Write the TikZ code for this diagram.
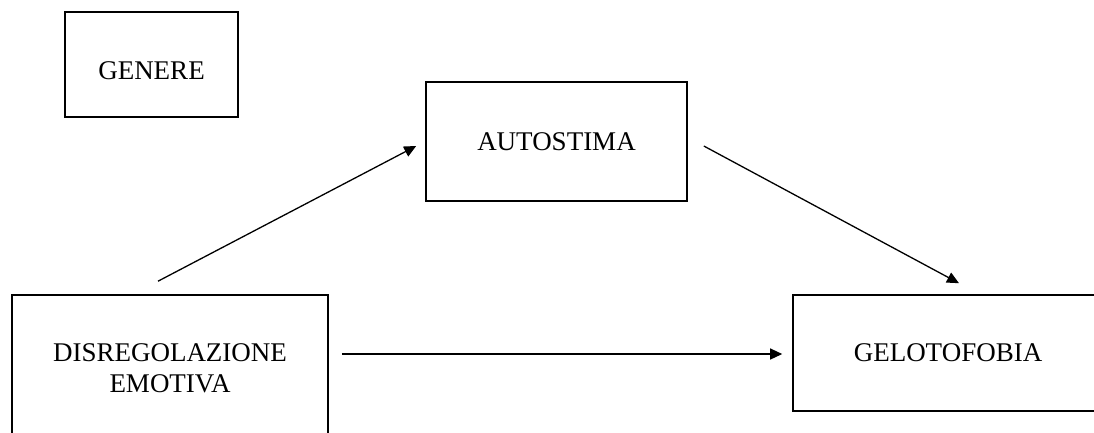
\documentclass[tikz,border=0pt]{standalone}
\usepackage{fontspec}
\setmainfont{Liberation Serif}
\usetikzlibrary{arrows.meta,calc}
\begin{document}
\begin{tikzpicture}[x=1pt,y=-1pt,
  box/.style={draw=black,line width=1.6pt,inner sep=0pt,align=center,
    font=\fontsize{27}{31}\selectfont},
  conn/.style={line width=1.3pt,-{Triangle[length=12pt,width=11pt]}}]
\useasboundingbox (0,0) rectangle (1094,432);
\clip (0,0) rectangle (1094,432);
\node[box,minimum width=173pt,minimum height=105pt] (gen) at (151.5,64.5) {};
\node[font=\fontsize{27}{31}\selectfont] at (151.5,70.5) {GENERE};
\node[box,minimum width=261pt,minimum height=119pt] (aut) at (556.5,141.5) {AUTOSTIMA};
\node[box,minimum width=316pt,minimum height=146pt] (dis) at (170,368) {DISREGOLAZIONE\\EMOTIVA};
\node[box,minimum width=310pt,minimum height=116pt] (gel) at (948,353) {GELOTOFOBIA};
\draw[conn] ($(dis.north)+(-12,-13)$) -- ($(aut.west)+(-9,4.5)$);
\draw[conn] ($(aut.east)+(16,4.5)$) -- ($(gel.north)+(11,-11)$);
\draw[conn] ($(dis.east)+(13,-14)$) -- ($(gel.west)+(-10,1)$);
\end{tikzpicture}
\end{document}
